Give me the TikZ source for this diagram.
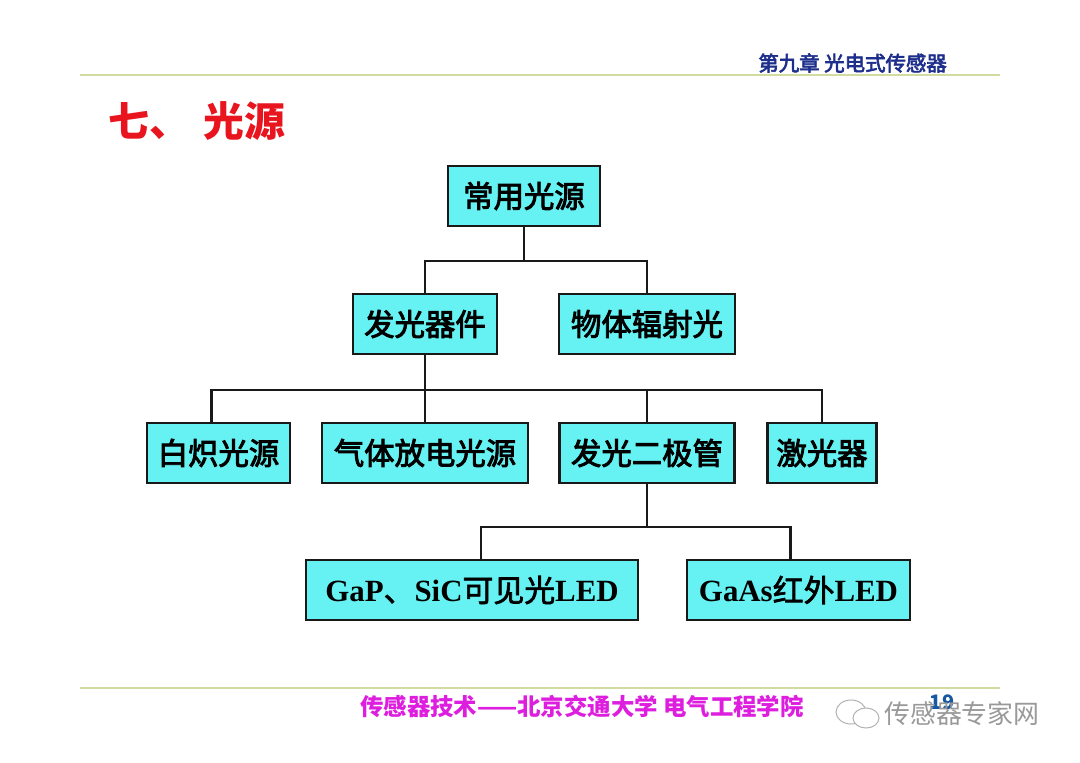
\documentclass[tikz,border=0pt]{standalone}
\usepackage{fontspec}
\newfontfamily\cjk{Noto Sans CJK SC}
\newfontfamily\cjkm{Noto Sans CJK SC}[FakeBold=3]
\newfontfamily\cjkl{Noto Sans CJK SC}[FakeBold=2]
\newfontfamily\serifb{Liberation Serif}
\usetikzlibrary{calc}
\definecolor{boxfill}{HTML}{66F2F2}
\definecolor{rulecol}{HTML}{D2DCA0}
\definecolor{headblue}{HTML}{1E2E8C}
\definecolor{titlered}{HTML}{E8141E}
\definecolor{footmag}{HTML}{DE1EDE}
\begin{document}
\begin{tikzpicture}[x=1bp,y=-1bp,
  box/.style={draw=black!90,line width=2.8bp,fill=boxfill,minimum height=60bp,inner sep=0pt,anchor=center,font=\cjkm\fontsize{30.5}{33}\selectfont},
  ledbox/.style={box,font=\serifb\bfseries\fontsize{31}{34}\selectfont},
  conn/.style={line width=2.5bp,draw=black!90}]
\useasboundingbox (0,0) rectangle (1080,763);
\fill[white] (0,0) rectangle (1080,763);
% rules
\draw[rulecol,line width=1.2bp] (80,75) -- (1000,75);
\draw[rulecol,line width=1.2bp] (80,688) -- (1000,688);
% header / title / footer
\node[anchor=east,inner sep=0,text=headblue,font=\cjkm\fontsize{20.5}{22}\selectfont] (head) at (947,63) {第九章 光电式传感器};
\node[anchor=west,inner sep=0,text=titlered,font=\cjk\bfseries\fontsize{41}{44}\selectfont] (title) at (108,121) {七、\hspace{14bp}光源};
\node[anchor=west,inner sep=0,text=footmag,font=\cjk\bfseries\fontsize{23.5}{26}\selectfont] (foot) at (360,706) {传感器技术——北京交通大学 电气工程学院};
\node[inner sep=0,text=headblue!80!cyan,font=\cjk\bfseries\fontsize{20}{22}\selectfont] (pnum) at (942,702) {19};
% watermark
\draw[black!30,line width=1bp] (851,712) ellipse (15bp and 12bp);
\draw[black!30,line width=1bp,fill=white] (866,718) ellipse (13bp and 10bp);
\node[anchor=west,inner sep=0,text=black!40,font=\cjk\fontsize{26}{28}\selectfont] (wm) at (884,714) {传感器专家网};
% boxes
\node[box,minimum width=152bp] (root) at (524,196) {常用光源};
\node[box,minimum width=144bp] (fg) at (425,324) {发光器件};
\node[box,minimum width=176bp] (wt) at (647,324) {物体辐射光};
\node[box,minimum width=143bp] (bz) at (218.5,453) {白炽光源};
\node[box,minimum width=206bp] (qt) at (425,453) {气体放电光源};
\node[box,minimum width=175bp] (ej) at (647,453) {发光二极管};
\node[box,minimum width=109bp] (jg) at (822,453) {激光器};
\node[ledbox,minimum width=332bp] (gap) at (472,590) {GaP{\cjkl\mdseries 、}SiC{\cjkl\mdseries 可见光}LED};
\node[ledbox,minimum width=223bp] (gaas) at (798.5,590) {GaAs{\cjkl\mdseries 红外}LED};
% connectors
\coordinate (j1) at (524,261);
\coordinate (j2) at (425,390);
\coordinate (j3) at (647,527);
\draw[conn] (root.south) -- (j1);
\draw[conn] (fg.north) -- (fg.north |- j1) -- (wt.north |- j1) -- (wt.north);
\draw[conn] (fg.south) -- (qt.north);
\draw[conn] ([xshift=-7bp]bz.north) -- ([xshift=-7bp]bz.north |- j2) -- (jg.north |- j2) -- (jg.north);
\draw[conn] (ej.north) -- (ej.north |- j2);
\draw[conn] (ej.south) -- (j3);
\draw[conn] ([xshift=9bp]gap.north) -- ([xshift=9bp]gap.north |- j3) -- ([xshift=-8bp]gaas.north |- j3) -- ([xshift=-8bp]gaas.north);
\end{tikzpicture}
\end{document}
